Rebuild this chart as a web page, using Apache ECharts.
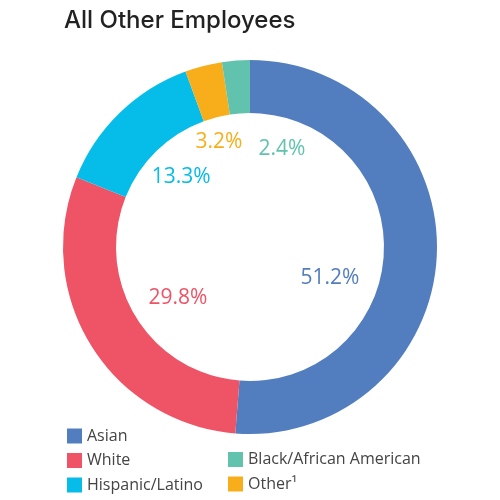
<!DOCTYPE html>
<html><head><meta charset="utf-8">
<script src="https://cdn.jsdelivr.net/npm/echarts@6/dist/echarts.min.js"></script>
<style>html,body{margin:0;padding:0;background:#fff}#c{width:500px;height:500px}</style>
</head><body><div id="c"></div>
<script>
const categories = ['Asian', 'White', 'Hispanic/Latino', 'Other¹', 'Black/African American'];
const values = [51.2, 29.8, 13.3, 3.2, 2.4];
const colors = ['#527EC0', '#EF5366', '#06BCE8', '#F8AE1A', '#61C3AE'];
const legendCol1 = ['Asian', 'White', 'Hispanic/Latino'];
const legendCol2 = ['Black/African American', 'Other¹'];

// label nudges (style only)
const labelOffsets = [[-13, 27], [7, 2], [-4, -3], [-8, -15], [39, -5]];

const data = categories.map((c, i) => ({ name: c, value: values[i], itemStyle: { color: colors[i] } }));
const labelData = categories.map((c, i) => ({
  name: c, value: values[i],
  itemStyle: { color: 'rgba(0,0,0,0)' },
  label: { color: colors[i], offset: labelOffsets[i] }
}));

const chart = echarts.init(document.getElementById('c'));
const legendText = { fontFamily: 'Open Sans', fontSize: 16, color: '#444' };
chart.setOption({
  animation: false,
  title: {
    text: 'All Other Employees', left: 59, top: 4,
    textStyle: { fontFamily: 'Inter', fontSize: 24, fontWeight: 500, color: '#222' }
  },
  legend: [
    { data: legendCol1, orient: 'vertical', left: 62, top: 423, itemWidth: 15, itemHeight: 15, itemGap: 8.5, icon: 'rect', textStyle: legendText, selectedMode: false },
    { data: legendCol2, orient: 'vertical', left: 223, top: 446.5, itemWidth: 15, itemHeight: 15, itemGap: 8.5, icon: 'rect', textStyle: legendText, selectedMode: false }
  ],
  series: [
    {
      type: 'pie', center: [250, 247], radius: [134, 187],
      startAngle: 90, clockwise: true, silent: true,
      label: { show: false }, labelLine: { show: false },
      data: data
    },
    {
      type: 'pie', center: [250, 247], radius: [70, 110],
      startAngle: 90, clockwise: true, silent: true,
      legendHoverLink: false,
      label: { show: true, position: 'inside', fontFamily: 'Open Sans', fontSize: 21, fontWeight: 500, formatter: p => p.value.toFixed(1) + '%' },
      labelLine: { show: false },
      data: labelData
    }
  ]
});
</script></body></html>
